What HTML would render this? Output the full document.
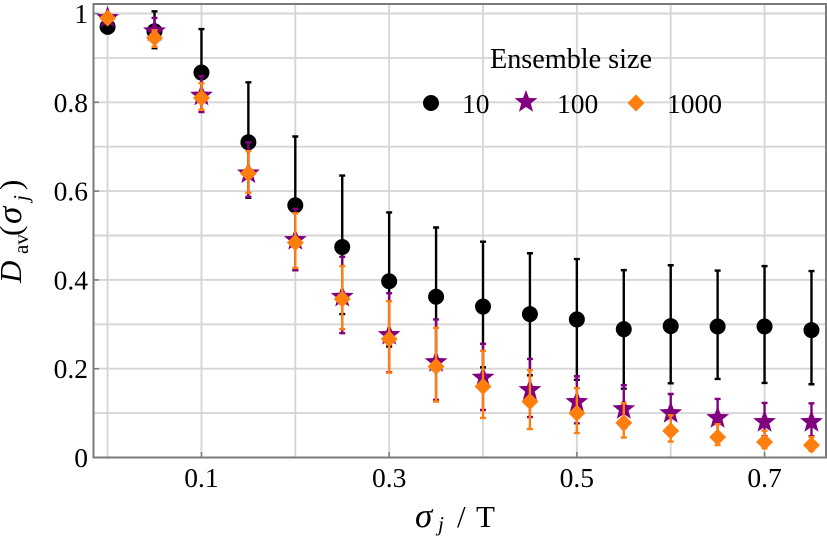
<!DOCTYPE html>
<html>
<head>
<meta charset="utf-8">
<title>Dav vs sigma_j</title>
<style>
html,body{margin:0;padding:0;background:#fff;}
svg{display:block;}
text{font-family:"Liberation Serif",serif;fill:#000;}
</style>
</head>
<body>
<svg id="chart" width="827" height="537" viewBox="0 0 827 537" xmlns="http://www.w3.org/2000/svg">
  <g id="grid"></g>
  <g id="series"></g>
  <g id="legend">
    <text x="571" y="68" font-size="28.2" text-anchor="middle">Ensemble size</text>
    <circle cx="431" cy="103" r="8" fill="#000"/>
    <text x="462" y="113" font-size="27.5">10</text>
    <polygon id="legend-star" fill="#800080"/>
    <text x="557" y="113" font-size="27.5">100</text>
    <polygon id="legend-diamond" fill="#ff7f0e"/>
    <text x="667" y="113" font-size="27.5">1000</text>
  </g>
  <g id="frame"></g>
  <g id="labels"></g>
  <text y="527" font-size="31"><tspan x="415" font-style="italic" font-size="35">σ</tspan><tspan x="438" y="531" font-style="italic" font-size="21">j</tspan><tspan x="457" y="527">/</tspan><tspan x="476" y="527">T</tspan></text>
  <text transform="translate(21,283) rotate(-90)" font-size="31"><tspan x="0" font-style="italic">D</tspan><tspan x="29" y="7" font-size="21">av</tspan><tspan x="47" y="0">(</tspan><tspan x="59" y="0" font-style="italic" font-size="35">σ</tspan><tspan x="82" y="7" font-style="italic" font-size="21">j</tspan><tspan x="93" y="0">)</tspan></text>
</svg>
<script>
const sigma = [0,0.05,0.1,0.15,0.2,0.25,0.3,0.35,0.4,0.45,0.5,0.55,0.6,0.65,0.7,0.75];

const mean10 = [0.97,0.96,0.867,0.71,0.568,0.474,0.397,0.362,0.34,0.323,0.311,0.289,0.296,0.295,0.295,0.287];
const hi10   = [0.975,1.005,0.965,0.845,0.723,0.635,0.552,0.518,0.486,0.46,0.447,0.422,0.433,0.421,0.431,0.42];
const lo10   = [0.965,0.922,0.78,0.585,0.422,0.323,0.25,0.205,0.203,0.185,0.175,0.155,0.167,0.177,0.168,0.165];

const mean100 = [0.99,0.96,0.815,0.64,0.49,0.362,0.276,0.215,0.18,0.152,0.125,0.109,0.1,0.089,0.08,0.08];
const hi100   = [0.995,0.99,0.859,0.71,0.56,0.452,0.37,0.311,0.256,0.222,0.183,0.163,0.143,0.132,0.123,0.122];
const lo100   = [0.985,0.925,0.778,0.587,0.422,0.28,0.192,0.13,0.107,0.091,0.077,0.066,0.058,0.05,0.048,0.048];

const mean1000 = [0.99,0.945,0.81,0.64,0.484,0.357,0.267,0.205,0.16,0.126,0.1,0.078,0.06,0.046,0.035,0.028];
const hi1000   = [0.995,0.962,0.843,0.69,0.55,0.431,0.352,0.292,0.24,0.197,0.156,0.122,0.095,0.075,0.06,0.046];
const lo1000   = [0.985,0.925,0.783,0.596,0.427,0.289,0.191,0.126,0.089,0.064,0.055,0.045,0.036,0.028,0.021,0.015];

const gridX = [0,0.1,0.2,0.3,0.4,0.5,0.6,0.7];
const gridY = [0.1,0.2,0.3,0.4,0.5,0.6,0.7,0.8,0.9,1];
const xTicks = [0.1,0.3,0.5,0.7];
const xTickLabels = ["0.1","0.3","0.5","0.7"];
const yTicks = [0,0.2,0.4,0.6,0.8,1];
const yTickLabels = ["0","0.2","0.4","0.6","0.8","1"];

const NS = "http://www.w3.org/2000/svg";
function xS(v){ return 107.6 + v * 938.5; }
function yS(v){ return 457.5 - v * 444; }
function mk(tag, attrs, parent){
  const e = document.createElementNS(NS, tag);
  for (const k in attrs) e.setAttribute(k, attrs[k]);
  parent.appendChild(e);
  return e;
}
function starPoints(cx, cy, R){
  const r = R * 0.42, p = [];
  for (let i = 0; i < 10; i++){
    const a = -Math.PI/2 + i * Math.PI/5, q = i % 2 ? r : R;
    p.push((cx + q*Math.cos(a)).toFixed(2) + "," + (cy + q*Math.sin(a)).toFixed(2));
  }
  return p.join(" ");
}
function diamondPoints(cx, cy, R){
  return [cx+","+(cy-R), (cx+R)+","+cy, cx+","+(cy+R), (cx-R)+","+cy].join(" ");
}

const grid = document.getElementById("grid");
gridX.forEach(function(v){
  const l = mk("line",{x1:xS(v),x2:xS(v),y1:4,y2:457.5,stroke:"#d6d6d6","stroke-width":1.9},grid);
  
  
});
gridY.forEach(function(v){
  const l = mk("line",{x1:93.5,x2:827,y1:yS(v),y2:yS(v),stroke:"#d6d6d6","stroke-width":1.9},grid);
  
  
});

const seriesG = document.getElementById("series");
function drawSeries(name, color, mean, hi, lo, lw, marker){
  const g = mk("g",{},seriesG);
  
  
  sigma.forEach(function(s, i){
    const x = xS(s);
    const bar = mk("path",{d:"M"+x+" "+yS(hi[i])+"V"+yS(lo[i])+"M"+(x-3)+" "+yS(hi[i])+"H"+(x+3)+"M"+(x-3)+" "+yS(lo[i])+"H"+(x+3),stroke:color,"stroke-width":lw,fill:"none"},g);
    
    
  });
  sigma.forEach(function(s, i){
    const x = xS(s), y = yS(mean[i]);
    let m;
    if (marker === "circle") m = mk("circle",{cx:x,cy:y,r:8,fill:color},g);
    if (marker === "star") m = mk("polygon",{points:starPoints(x,y,12),fill:color},g);
    if (marker === "diamond") m = mk("polygon",{points:diamondPoints(x,y,8.5),fill:color},g);
    
    
  });
}
drawSeries("10", "#000000", mean10, hi10, lo10, 2.4, "circle");
drawSeries("100", "#800080", mean100, hi100, lo100, 2.4, "star");
drawSeries("1000", "#ff7f0e", mean1000, hi1000, lo1000, 2.4, "diamond");

document.getElementById("legend-star").setAttribute("points", starPoints(526,102,12));
document.getElementById("legend-diamond").setAttribute("points", diamondPoints(636,103,8.5));

const frame = document.getElementById("frame");
const box = mk("rect",{x:93.5,y:4,width:732.5,height:453.5,fill:"none",stroke:"#7a7a7a","stroke-width":2},frame);



const labels = document.getElementById("labels");
xTicks.forEach(function(v, i){
  const t = mk("line",{x1:xS(v),x2:xS(v),y1:457.5,y2:452,stroke:"#7a7a7a","stroke-width":1.5},frame);
  
  
  const l = mk("text",{x:xS(v),y:487,"font-size":27.5,"text-anchor":"middle"},labels);
  
  
  l.textContent = xTickLabels[i];
});
yTicks.forEach(function(v, i){
  const t = mk("line",{x1:93.5,x2:99,y1:yS(v),y2:yS(v),stroke:"#7a7a7a","stroke-width":1.5},frame);
  
  
  const l = mk("text",{x:88,y:yS(v)+9.5,"font-size":27.5,"text-anchor":"end"},labels);
  
  
  l.textContent = yTickLabels[i];
});
</script>
</body>
</html>
